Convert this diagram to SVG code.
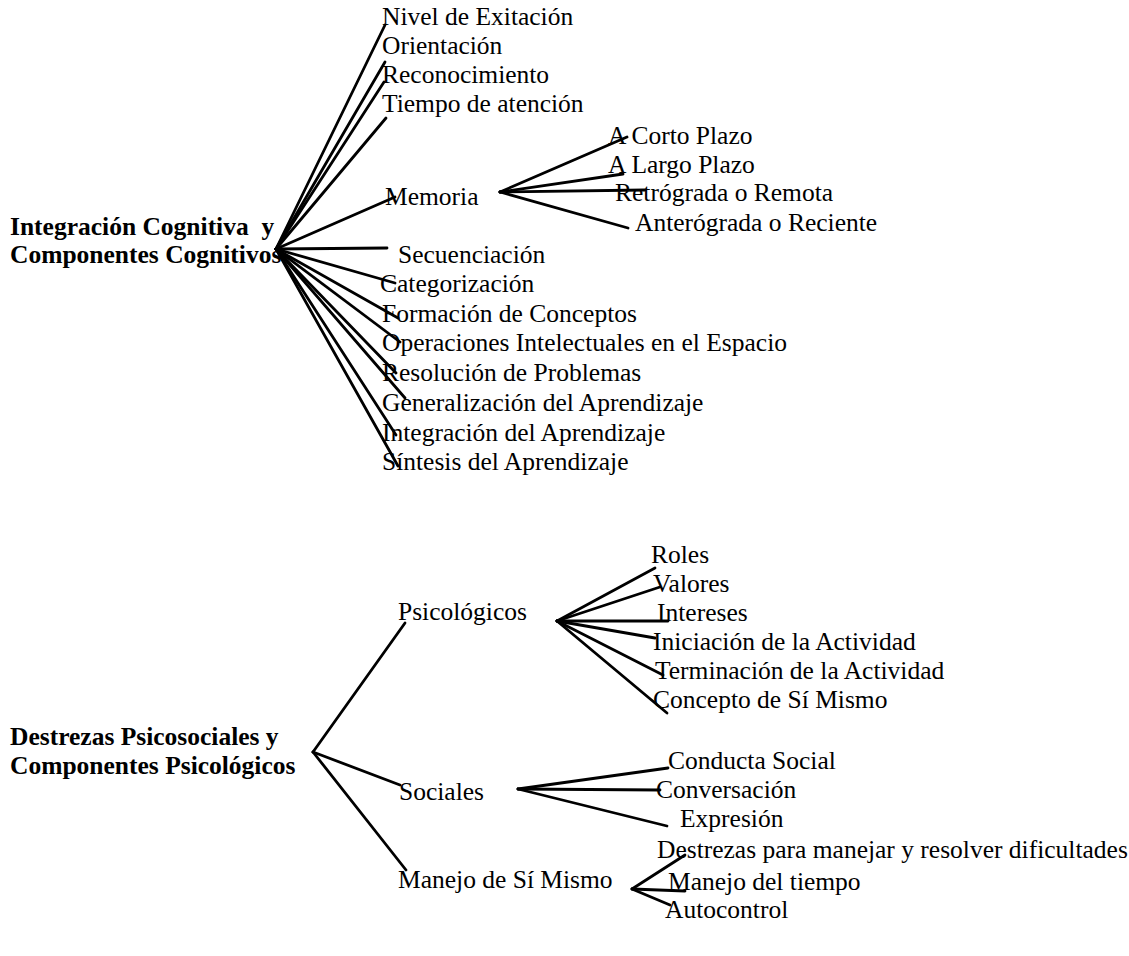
<svg xmlns="http://www.w3.org/2000/svg" width="1129" height="956" viewBox="0 0 1129 956">
<style>
text{font-family:"Liberation Serif","Times New Roman",serif;font-size:25.5px;fill:#000;white-space:pre}
.b{font-weight:bold}
#connectors line{stroke:#000;stroke-width:2.8;stroke-linecap:round}
</style>
<rect width="1129" height="956" fill="#fff"/>
<g id="connectors">
<line x1="276" y1="249" x2="385" y2="25"/>
<line x1="276" y1="249" x2="385" y2="62"/>
<line x1="276" y1="249" x2="384" y2="82"/>
<line x1="276" y1="249" x2="386" y2="118"/>
<line x1="276" y1="249" x2="395" y2="197"/>
<line x1="276" y1="249" x2="387" y2="248"/>
<line x1="276" y1="249" x2="395" y2="283"/>
<line x1="276" y1="249" x2="398" y2="318"/>
<line x1="276" y1="249" x2="400" y2="342"/>
<line x1="276" y1="249" x2="396" y2="373"/>
<line x1="276" y1="249" x2="405" y2="398"/>
<line x1="276" y1="249" x2="396" y2="435"/>
<line x1="276" y1="249" x2="398" y2="466"/>
<line x1="500" y1="192" x2="627" y2="137"/>
<line x1="500" y1="192" x2="623" y2="174"/>
<line x1="500" y1="192" x2="645" y2="190"/>
<line x1="500" y1="192" x2="628" y2="228"/>
<line x1="313" y1="752" x2="405" y2="623"/>
<line x1="313" y1="752" x2="400" y2="785"/>
<line x1="313" y1="752" x2="406" y2="870"/>
<line x1="557" y1="621" x2="655" y2="568"/>
<line x1="557" y1="621" x2="660" y2="587"/>
<line x1="557" y1="621" x2="668" y2="621"/>
<line x1="557" y1="621" x2="655" y2="638"/>
<line x1="557" y1="621" x2="663" y2="675"/>
<line x1="557" y1="621" x2="667" y2="713"/>
<line x1="518" y1="789" x2="668" y2="768"/>
<line x1="518" y1="789" x2="660" y2="790"/>
<line x1="518" y1="789" x2="667" y2="826"/>
<line x1="632" y1="889" x2="685" y2="855"/>
<line x1="632" y1="889" x2="685" y2="891"/>
<line x1="632" y1="889" x2="670" y2="905"/>
</g>
<g id="n-cognitiva"><text class="b" x="10" y="235">Integración Cognitiva  y</text><text class="b" x="10" y="263">Componentes Cognitivos</text></g>
<g id="n-nivel"><text x="382" y="25">Nivel de Exitación</text></g>
<g id="n-orientacion"><text x="382" y="54">Orientación</text></g>
<g id="n-reconocimiento"><text x="382" y="83">Reconocimiento</text></g>
<g id="n-tiempo"><text x="382" y="112">Tiempo de atención</text></g>
<g id="n-memoria"><text x="385" y="205">Memoria</text></g>
<g id="n-secuenciacion"><text x="398" y="263">Secuenciación</text></g>
<g id="n-categorizacion"><text x="380" y="292">Categorización</text></g>
<g id="n-formacion"><text x="382" y="322">Formación de Conceptos</text></g>
<g id="n-operaciones"><text x="382" y="351">Operaciones Intelectuales en el Espacio</text></g>
<g id="n-resolucion"><text x="382" y="381">Resolución de Problemas</text></g>
<g id="n-generalizacion"><text x="382" y="411">Generalización del Aprendizaje</text></g>
<g id="n-integracion"><text x="382" y="441">Integración del Aprendizaje</text></g>
<g id="n-sintesis"><text x="382" y="470">Síntesis del Aprendizaje</text></g>
<g id="n-corto"><text x="608" y="144">A Corto Plazo</text></g>
<g id="n-largo"><text x="608" y="173">A Largo Plazo</text></g>
<g id="n-retrograda"><text x="615" y="201">Retrógrada o Remota</text></g>
<g id="n-anterograda"><text x="635" y="231">Anterógrada o Reciente</text></g>
<g id="n-psicosociales"><text class="b" x="10" y="745">Destrezas Psicosociales y</text><text class="b" x="10" y="774">Componentes Psicológicos</text></g>
<g id="n-psicologicos"><text x="398" y="620">Psicológicos</text></g>
<g id="n-sociales"><text x="399" y="800">Sociales</text></g>
<g id="n-manejo"><text x="398" y="888">Manejo de Sí Mismo</text></g>
<g id="n-roles"><text x="651" y="563">Roles</text></g>
<g id="n-valores"><text x="653" y="592">Valores</text></g>
<g id="n-intereses"><text x="657" y="621">Intereses</text></g>
<g id="n-iniciacion"><text x="653" y="650">Iniciación de la Actividad</text></g>
<g id="n-terminacion"><text x="655" y="679">Terminación de la Actividad</text></g>
<g id="n-concepto"><text x="653" y="708">Concepto de Sí Mismo</text></g>
<g id="n-conducta"><text x="668" y="769">Conducta Social</text></g>
<g id="n-conversacion"><text x="656" y="798">Conversación</text></g>
<g id="n-expresion"><text x="680" y="827">Expresión</text></g>
<g id="n-destrezas"><text x="657" y="858">Destrezas para manejar y resolver dificultades</text></g>
<g id="n-manejo-tiempo"><text x="668" y="890">Manejo del tiempo</text></g>
<g id="n-autocontrol"><text x="665" y="918">Autocontrol</text></g>
</svg>
